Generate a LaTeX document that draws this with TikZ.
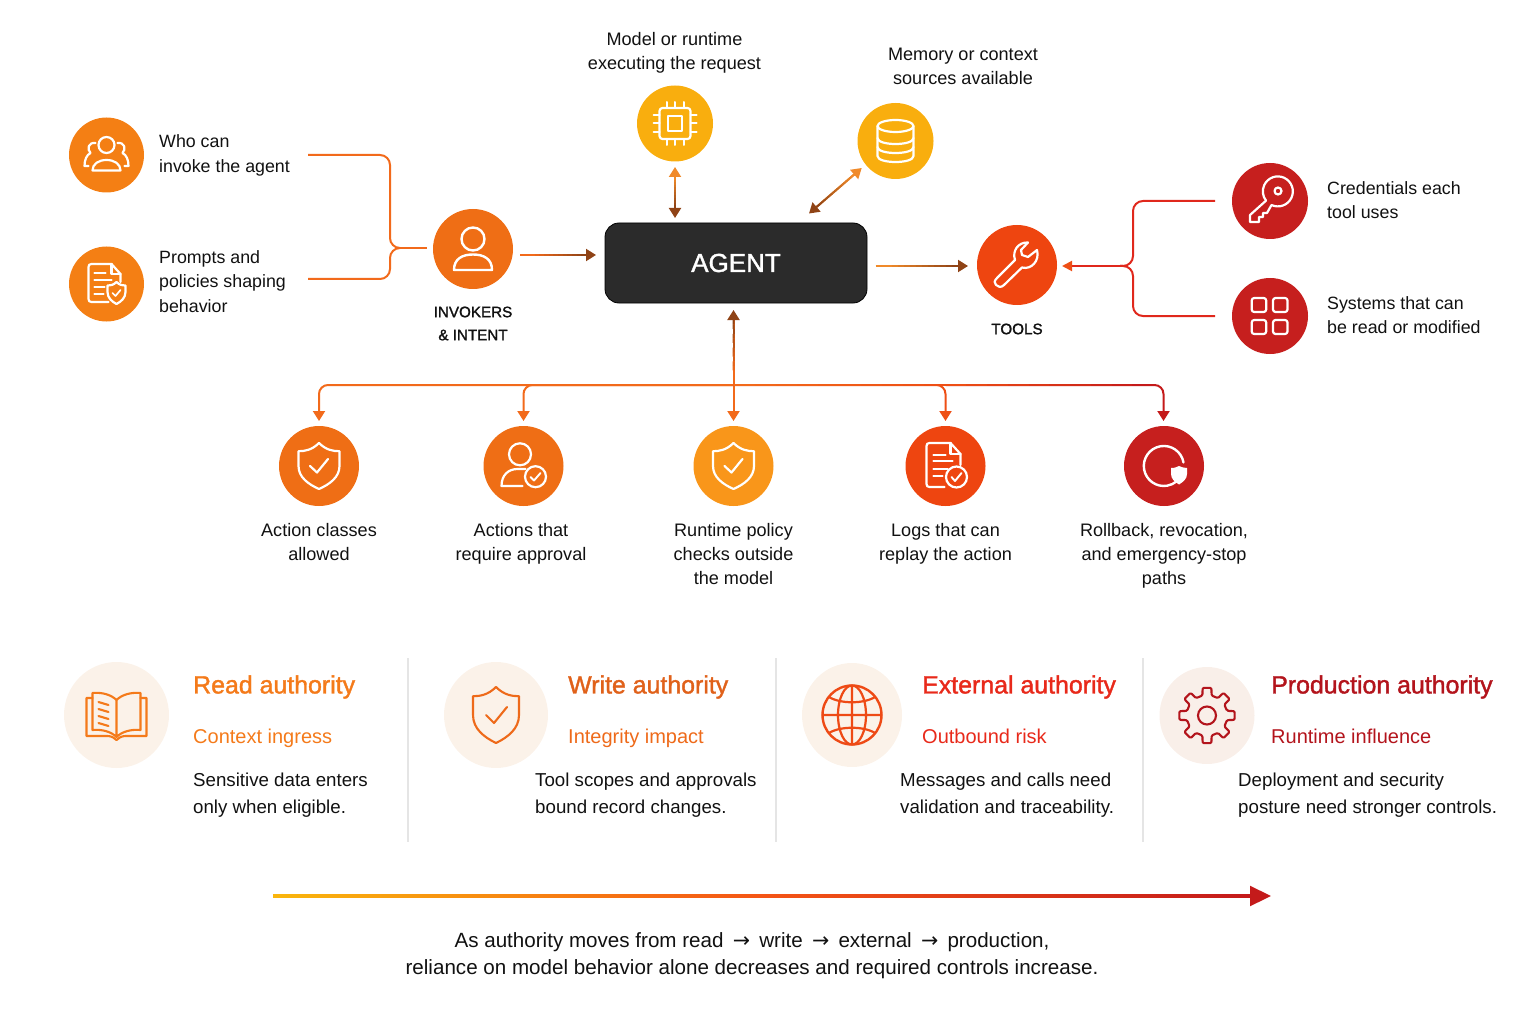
\documentclass[tikz,border=0pt]{standalone}
\usepackage{fontspec}
\setmainfont{Liberation Sans}
\newfontfamily\medf[FakeBold=1.5]{Liberation Sans}
\newfontfamily\arrf{DejaVu Sans}
\newcommand\arw{\kern3.5pt{\arrf →}\kern3.5pt}
\usetikzlibrary{arrows.meta,calc,shapes.geometric}
\definecolor{cOr}{HTML}{F47F14}
\definecolor{cOrB}{HTML}{EF6E15}
\definecolor{cYe}{HTML}{F9AE0E}
\definecolor{cAm}{HTML}{F9961A}
\definecolor{cRo}{HTML}{EE4510}
\definecolor{cRe}{HTML}{C61F1E}
\definecolor{wOr}{HTML}{F26A1B}
\definecolor{wBr}{HTML}{8F4316}
\definecolor{wLt}{HTML}{F08A2A}
\definecolor{wRe}{HTML}{E0281C}
\definecolor{wDk}{HTML}{C41A1A}
\definecolor{wMd}{HTML}{EE4F15}
\definecolor{ink}{HTML}{111111}
\definecolor{pA}{HTML}{FBF2E9}
\definecolor{pD}{HTML}{F9EFE9}
\definecolor{aRead}{HTML}{F47A1A}
\definecolor{aWrite}{HTML}{E0611A}
\definecolor{aExt}{HTML}{E8291A}
\definecolor{aProd}{HTML}{B3141C}
\definecolor{iWrite}{HTML}{EE6A1A}
\definecolor{iExt}{HTML}{EE4A15}
\tikzset{
  disc/.style={circle,minimum size=#1,inner sep=0pt,draw=none},
  pale/.style={ellipse,inner sep=0pt,draw=none},
  ico/.style={draw=white,line width=2.2pt,line join=round,line cap=round,fill=none},
  lico/.style={line width=2.1pt,line join=round,line cap=round,fill=none},
  wire/.style={line width=2pt},
  lab/.style={font=\fontsize{17.8}{24.4}\selectfont,text=ink,align=left,anchor=west,inner sep=0pt},
  captxt/.style={font=\fontsize{18.1}{24.2}\selectfont,text=ink,align=center,inner sep=0pt},
  tagtxt/.style={font=\medf\fontsize{15.2}{23}\selectfont,text=ink,align=center,inner sep=0pt},
  ttl/.style={font=\medf\fontsize{24.9}{28}\selectfont,anchor=west,inner sep=0pt},
  subtxt/.style={font=\fontsize{20}{24}\selectfont,anchor=west,inner sep=0pt},
  bod/.style={font=\fontsize{18.7}{27}\selectfont,text=ink,align=left,anchor=west,inner sep=0pt},
  endtxt/.style={font=\fontsize{20.6}{26.6}\selectfont,text=ink,align=center,inner sep=0pt},
  divider/.style={draw=black!10,line width=1.4pt}
}
% gradient overlay between two named coordinates
\newcommand\gradseg[4]{%
  \path ($(#1)!10pt!(#2)$) coordinate (ga) ($(#2)!10pt!(#1)$) coordinate (gb);
  \foreach \i in {0,...,11}{%
    \pgfmathsetmacro\pa{\i*100/11}%
    \pgfmathsetmacro\ta{\i/12}%
    \pgfmathsetmacro\tb{(\i+1)/12}%
    \draw[wire,draw={#4!\pa!#3}] ($(ga)!\ta!(gb)$) -- ($(ga)!\tb!(gb)$);
  }}
\newcommand\shieldpath[3]{% half-width, top, bottom
  (0,#2) .. controls (#1*0.35,#2+#1*0.35) and (#1*0.7,#2+#1*0.4) .. (#1,#2+#1*0.4)
  -- (#1,0) .. controls (#1,#3*0.5) and (#1*0.5,#3*0.8) .. (0,#3)
  .. controls (-#1*0.5,#3*0.8) and (-#1,#3*0.5) .. (-#1,0)
  -- (-#1,#2+#1*0.4) .. controls (-#1*0.7,#2+#1*0.4) and (-#1*0.35,#2+#1*0.35) .. (0,#2) -- cycle}
\newcommand\icPeople[1]{\begin{scope}[shift={(#1)}]
  \draw[ico] (0,-10) circle (8);
  \draw[ico] (-14,15.5) .. controls (-14,9) and (-8,5) .. (0,5) .. controls (8,5) and (14,9) .. (14,15.5) -- cycle;
  \draw[ico] (-11,-12) .. controls (-18,-13) and (-20,-6) .. (-16,-2) .. controls (-20,0) and (-22,5) .. (-22,11) -- (-18,11);
  \draw[ico] (11,-12) .. controls (18,-13) and (20,-6) .. (16,-2) .. controls (20,0) and (22,5) .. (22,11) -- (18,11);
\end{scope}}
\newcommand\icDocShield[1]{\begin{scope}[shift={(#1)}]
  \draw[ico] (-15,-20) -- (5,-20) -- (14,-10) -- (14,-2) (2,18) -- (-15,18) .. controls (-17,18) and (-18,17) .. (-18,15) -- (-18,-17) .. controls (-18,-19) and (-17,-20) .. (-15,-20);
  \draw[ico] (5,-20) -- (5,-10) -- (14,-10);
  \draw[ico] (-12,-11) -- (-1,-11) (-12,-4) -- (5,-4) (-12,3) -- (-2,3) (-12,10) -- (-3,10);
  \begin{scope}[shift={(10,8)}]
  \draw[ico,fill=cOr] \shieldpath{9}{-10}{12};
  \draw[ico,line width=1.7pt] (-4,1) -- (-1,4) -- (4,-2);
  \end{scope}
\end{scope}}
\newcommand\icPerson[1]{\begin{scope}[shift={(#1)}]
  \draw[ico,line width=2.4pt] (0,-10) circle (11.5);
  \draw[ico,line width=2.4pt] (-19,21) .. controls (-19,10) and (-11,5.5) .. (0,5.5) .. controls (11,5.5) and (19,10) .. (19,21) -- cycle;
\end{scope}}
\newcommand\icChip[1]{\begin{scope}[shift={(#1)}]
  \draw[ico,rounded corners=3pt] (-15.5,-15.5) rectangle (15.5,15.5);
  \draw[ico] (-7.3,-7.3) rectangle (7.3,7.3);
  \foreach \p in {-8.5,0,8.5}{
    \draw[ico,line width=2pt] (\p,-21.5) -- (\p,-15.5) (\p,15.5) -- (\p,21.5) (-21.5,\p) -- (-15.5,\p) (15.5,\p) -- (21.5,\p);
  }
\end{scope}}
\newcommand\icDB[1]{\begin{scope}[shift={(#1)}]
  \draw[ico] (0,-15) ellipse (18 and 6);
  \draw[ico] (-18,-15) -- (-18,15) .. controls (-18,19) and (-9,21) .. (0,21) .. controls (9,21) and (18,19) .. (18,15) -- (18,-15);
  \draw[ico] (-18,-3) .. controls (-18,1) and (-9,3) .. (0,3) .. controls (9,3) and (18,1) .. (18,-3);
  \draw[ico] (-18,6) .. controls (-18,10) and (-9,12) .. (0,12) .. controls (9,12) and (18,10) .. (18,6);
\end{scope}}
\newcommand\icWrench[1]{\begin{scope}[shift={(#1)}]
  \draw[ico] (-20,13) -- (-2,-5) .. controls (-5,-14) and (1,-23) .. (11,-22.5) -- (4,-15) -- (5,-10) -- (11,-8) -- (20,-15) .. controls (23,-4) and (14,5) .. (5,2.5) -- (-13,20) .. controls (-16,23) and (-19,22) .. (-21,20) .. controls (-23,18) and (-23,16) .. (-20,13) -- cycle;
\end{scope}}
\newcommand\icKey[1]{\begin{scope}[shift={(#1)}]
  \draw[ico] (1.5,4) arc[start angle=115,end angle=-218,radius=15] -- (-20,14) -- (-20,21) -- (-11,21) -- (-11,16) -- (-7,16) -- (-7,12) -- (-3,12) -- cycle;
  \draw[ico] (8,-10) circle (3.5);
\end{scope}}
\newcommand\icGrid[1]{\begin{scope}[shift={(#1)}]
  \foreach \a/\b in {-18.3/-18,3/-18,-18.3/4,3/4}{
    \draw[ico,rounded corners=2.5pt] (\a,\b) rectangle ++(14.5,14);
  }
\end{scope}}
\newcommand\icShield[1]{\begin{scope}[shift={(#1)}]
  \draw[ico] \shieldpath{20.5}{-23}{23};
  \draw[ico] (-9,0) -- (-2,6.5) -- (9,-7);
\end{scope}}
\newcommand\icApprove[1]{\begin{scope}[shift={(#1)}]
  \draw[ico] (-3.5,-11.7) circle (11);
  \draw[ico] (-1,20) -- (-22,20) .. controls (-22,9) and (-15,3) .. (-6,3) -- (2,3);
  \draw[ico] (12,10.7) circle (10.5);
  \draw[ico,line width=1.9pt] (7,11) -- (10.5,14.5) -- (17,7);
\end{scope}}
\newcommand\icDocCheck[2]{\begin{scope}[shift={(#1)}]
  \draw[ico] (-1,21) -- (-16,21) .. controls (-18,21) and (-19,20) .. (-19,18) -- (-19,-20) .. controls (-19,-22) and (-18,-23) .. (-16,-23) -- (5,-23) -- (15,-12) -- (15,-1);
  \draw[ico] (5,-23) -- (5,-12) -- (15,-12);
  \draw[ico] (-12,-11) -- (0,-11) (-12,-5) -- (7,-5) (-12,3) -- (2,3) (-12,10) -- (-3,10);
  \draw[ico,fill=#2] (11,11) circle (10.5);
  \draw[ico,line width=1.9pt] (6,11) -- (9.5,15) -- (16,7);
\end{scope}}
\newcommand\icRollback[1]{\begin{scope}[shift={(#1)}]
  \draw[ico,line width=2.4pt] (19.5,-3.5) arc[start angle=-10,end angle=-310,radius=20];
  \fill[white] (7,2) .. controls (11,2) and (13,1) .. (15,0) .. controls (17,1) and (20,2) .. (23,2) -- (23,8) .. controls (23,13) and (19,16) .. (15,18.5) .. controls (11,16) and (7,13) .. (7,8) -- cycle;
\end{scope}}
\begin{document}
\begin{tikzpicture}[x=1pt,y=-1pt]
\useasboundingbox (0,0) rectangle (1536,1024);

% discs
\node[disc=75pt,fill=cOr] (who) at (106.5,155) {};
\node[disc=75pt,fill=cOr] (prompts) at (106.5,284) {};
\node[disc=80pt,fill=cOrB] (inv) at (473,249) {};
\node[disc=76pt,fill=cYe] (model) at (675,123.5) {};
\node[disc=76pt,fill=cYe] (memory) at (895.5,141) {};
\node[rectangle,rounded corners=14pt,minimum width=262pt,minimum height=80pt,inner sep=0pt,fill=black!83,draw=black,line width=.8pt,text=white,font=\medf\fontsize{26}{30}\selectfont] (agent) at (736,263) {AGENT};
\node[disc=80pt,fill=cRo] (tools) at (1017,265) {};
\node[disc=76pt,fill=cRe] (key) at (1270,201) {};
\node[disc=76pt,fill=cRe] (grid) at (1270,316) {};
\node[disc=80pt,fill=cOrB] (action) at (319,466) {};
\node[disc=80pt,fill=cOrB] (approve) at (523.5,466) {};
\node[disc=80pt,fill=cAm] (runtime) at (733.5,466) {};
\node[disc=80pt,fill=cRo] (logs) at (945.5,466) {};
\node[disc=80pt,fill=cRe] (roll) at (1164,466) {};

\icPeople{who}
\icDocShield{prompts}
\icPerson{inv}
\icChip{model}
\icDB{memory}
\icWrench{tools}
\icKey{key}
\icGrid{grid}
\icShield{action}
\icApprove{approve}
\icShield{runtime}
\icDocCheck{logs}{cRo}
\icRollback{roll}

% free connector ends
\coordinate (whoEnd) at (308,155);
\coordinate (promptsEnd) at (308,279);
\coordinate (invIn) at (427,248);
\coordinate (invOut) at (520,255);
\coordinate (agentIn) at (596,255);
\coordinate (modelB) at (675,167);
\coordinate (agentTopA) at (675,218);
\coordinate (memB) at (861.7,168);
\coordinate (agentTopB) at (809,213.5);
\coordinate (agentOut) at (875.5,266);
\coordinate (toolsIn) at (968,266);
\coordinate (agentBot) at (733.5,310);
\coordinate (busJ) at (733.5,385);
\coordinate (runTop) at (733.5,421);
\coordinate (keyEnd) at (1215,201);
\coordinate (gridEnd) at (1215,316);
\coordinate (toolsR) at (1062,266);
\coordinate (brJ) at (1120,266);

% left bracket
\draw[wire,draw=wOr,rounded corners=10pt] (whoEnd) -- (390,155) -- (390,248) -- (400,248);
\draw[wire,draw=wOr,rounded corners=10pt] (promptsEnd) -- (390,279) -- (390,248) -- (400,248);
\draw[wire,draw=wOr] (398,248) -- (invIn);

% straight connectors
\draw[wire,draw=wOr,-{Triangle[length=10pt,width=12pt,color=wBr]}] (invOut) -- (agentIn);
\gradseg{invOut}{agentIn}{wOr}{wBr}
\draw[wire,draw=wLt,{Triangle[length=10pt,width=12pt,color=wLt]}-{Triangle[length=10pt,width=12pt,color=wBr]}] (modelB) -- (agentTopA);
\gradseg{modelB}{agentTopA}{wLt}{wBr}
\draw[wire,draw=wLt,{Triangle[length=10pt,width=12pt,color=wLt]}-{Triangle[length=10pt,width=12pt,color=wBr]}] (memB) -- (agentTopB);
\gradseg{memB}{agentTopB}{wLt}{wBr}
\draw[wire,draw=wLt,-{Triangle[length=10pt,width=12pt,color=wBr]}] (agentOut) -- (toolsIn);
\gradseg{agentOut}{toolsIn}{wLt}{wBr}
\draw[wire,draw=wOr,{Triangle[length=10pt,width=12pt,color=wBr]}-{Triangle[length=10pt,width=12pt,color=wOr]}] (agentBot) -- (runTop);
\gradseg{agentBot}{busJ}{wBr}{wOr}

% bus
\coordinate (busL) at (319,385);
\coordinate (busA) at (523.5,385);
\coordinate (busB) at (945.5,385);
\coordinate (busR) at (1163.5,385);
\draw[wire,draw=wOr,rounded corners=9pt,-{Triangle[length=10pt,width=12pt,color=wOr]}] (busJ) -- (busL) -- (319,421);
\draw[wire,draw=wOr,rounded corners=9pt,-{Triangle[length=10pt,width=12pt,color=wOr]}] (busJ) -- (busA) -- (523.5,421);
\draw[wire,draw=wMd,rounded corners=9pt,-{Triangle[length=10pt,width=12pt,color=wMd]}] (busJ) -- (busB) -- (945.5,421);
\draw[wire,draw=wDk,rounded corners=9pt,-{Triangle[length=10pt,width=12pt,color=wDk]}] (busB) -- (busR) -- (1163.5,421);
\foreach \i in {0,...,9}{%
  \pgfmathsetmacro\pa{\i*100/9}%
  \pgfmathsetmacro\ta{\i/10}%
  \pgfmathsetmacro\tb{(\i+1)/10}%
  \draw[wire,draw={wMd!\pa!wOr}] ($(busJ)!\ta!(busB)$) -- ($(busJ)!\tb!(busB)$);
  \draw[wire,draw={wDk!\pa!wMd}] ($(busB)!\ta!(1153,385)$) -- ($(busB)!\tb!(1153,385)$);
}

% tools bracket
\draw[wire,draw=wRe,rounded corners=10pt] (keyEnd) -- (1133,201) -- (1133,266) -- (brJ);
\draw[wire,draw=wRe,rounded corners=10pt] (gridEnd) -- (1133,316) -- (1133,266) -- (brJ);
\draw[wire,draw=wRe,-{Triangle[length=10pt,width=10pt,color=wMd]}] (brJ) -- (toolsR);

% labels
\node[lab] (tWho) at (159,155.5) {Who can\\invoke the agent};
\node[lab] (tPrompts) at (159,281.5) {Prompts and\\policies shaping\\behavior};
\node[tagtxt] (tInv) at (473,323.5) {INVOKERS\\\& INTENT};
\node[captxt] (tModel) at (674.5,53) {Model or runtime\\executing the request};
\node[captxt] (tMem) at (963,66) {Memory or context\\sources available};
\node[tagtxt] (tTools) at (1017,329) {TOOLS};
\node[lab] (tKey) at (1327,200) {Credentials each\\tool uses};
\node[lab] (tGrid) at (1327,315) {Systems that can\\be read or modified};
\node[captxt] (tAct) at (319,542) {Action classes\\allowed};
\node[captxt] (tApp) at (521,544) {Actions that\\require approval};
\node[captxt] (tRun) at (733.5,554) {Runtime policy\\checks outside\\the model};
\node[captxt] (tLog) at (945.5,544) {Logs that can\\replay the action};
\node[captxt] (tRol) at (1164,556) {Rollback, revocation,\\and emergency-stop\\paths};

% lower band
\draw[divider] (408,658) -- (408,842) (776,658) -- (776,842) (1143,658) -- (1143,842);
\node[pale,minimum width=105pt,minimum height=106pt,fill=pA] (pRead) at (116.5,715) {};
\node[pale,minimum width=104pt,minimum height=106pt,fill=pA] (pWrite) at (496,715) {};
\node[pale,minimum width=100pt,minimum height=104pt,fill=pA] (pExt) at (852,715) {};
\node[pale,minimum width=95pt,minimum height=97pt,fill=pD] (pProd) at (1207,715.5) {};

% book
\begin{scope}[shift={(pRead)}]
\draw[lico,draw=aRead] (0,-15) .. controls (-5,-20) and (-14,-23) .. (-24,-22) -- (-24,15) .. controls (-14,14) and (-5,17) .. (0,22) .. controls (5,17) and (14,14) .. (24,15) -- (24,-22) .. controls (14,-23) and (5,-20) .. (0,-15) -- (0,22);
\draw[lico,draw=aRead] (-24,-17) -- (-30,-17) -- (-30,21) -- (-9,21) .. controls (-5,21) and (-2,23) .. (0,25) .. controls (2,23) and (5,21) .. (9,21) -- (30,21) -- (30,-17) -- (24,-17);
\draw[lico,draw=aRead] (-18,-13) -- (-8,-10) (-18,-6) -- (-8,-3) (-18,1) -- (-8,4) (-18,8) -- (-8,11);
\end{scope}
% write shield
\begin{scope}[shift={(pWrite)}]
\draw[lico,draw=iWrite] \shieldpath{23}{-28}{28};
\draw[lico,draw=iWrite] (-10,0) -- (-2,8) -- (11,-8);
\end{scope}
% globe
\begin{scope}[shift={(pExt)}]
\draw[lico,draw=iExt,line width=2.4pt] (0,0) circle (29.5);
\draw[lico,draw=iExt,line width=2.2pt] (0,0) ellipse (14 and 29.5) (0,-29.5) -- (0,29.5) (-29.5,0) -- (29.5,0);
\draw[lico,draw=iExt,line width=2.2pt] (-23,-18) .. controls (-12,-11) and (12,-11) .. (23,-18) (-23,18) .. controls (-12,11) and (12,11) .. (23,18);
\end{scope}
% gear
\begin{scope}[shift={(pProd)}]
\draw[lico,draw=aProd,rounded corners=1.2pt] (-13:20.5) foreach \a in {0,45,...,315}{ -- (\a-13:20.5) -- (\a-9:28) -- (\a+9:28) -- (\a+13:20.5) } -- cycle;
\draw[lico,draw=aProd] (0,0) circle (9);
\end{scope}

\node[ttl,text=aRead] (h1) at (193,687) {Read authority};
\node[subtxt,text=aRead] (s1) at (193,738.5) {Context ingress};
\node[bod] (b1) at (193,795) {Sensitive data enters\\only when eligible.};
\node[ttl,text=aWrite] (h2) at (568,687) {Write authority};
\node[subtxt,text=iWrite] (s2) at (568,738.5) {Integrity impact};
\node[bod] (b2) at (535,795) {Tool scopes and approvals\\bound record changes.};
\node[ttl,text=aExt] (h3) at (922,687) {External authority};
\node[subtxt,text=aExt] (s3) at (922,736.5) {Outbound risk};
\node[bod] (b3) at (900,795) {Messages and calls need\\validation and traceability.};
\node[ttl,text=aProd] (h4) at (1271,687) {Production authority};
\node[subtxt,text=aProd] (s4) at (1271,736.5) {Runtime influence};
\node[bod] (b4) at (1238,795) {Deployment and security\\posture need stronger controls.};

% progress arrow
\coordinate (progA) at (273,896);
\coordinate (progB) at (1271,896);
\coordinate (progC) at (1251,896);
\draw[line width=2.2pt,draw=wDk,-{Triangle[length=21pt,width=20pt,color=wDk]}] (progA) -- (progB);
\shade[left color=cYe!90!yellow,right color=wDk,middle color=wOr!80!red] ($(progA)+(0,-1.2)$) rectangle ($(progC)+(0,1.2)$);
\node[endtxt] (tTail) at (752,955.5) {As authority moves from read \arw{} write \arw{} external \arw{} production,\\reliance on model behavior alone decreases and required controls increase.};
\end{tikzpicture}
\end{document}
